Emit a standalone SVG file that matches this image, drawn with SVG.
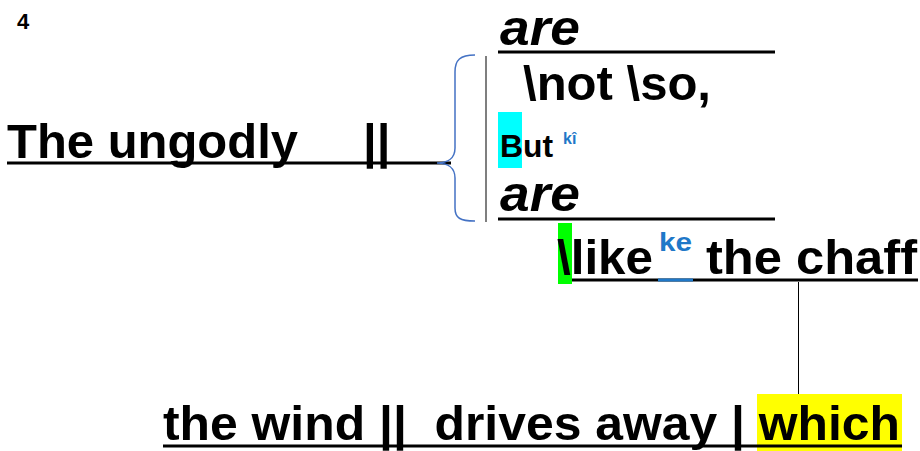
<svg xmlns="http://www.w3.org/2000/svg" width="920" height="451" viewBox="0 0 920 451">
<style>
.t{font-family:"Liberation Sans",Arial,sans-serif;font-weight:bold;fill:#000}
.i{font-style:italic}
.sup{font-family:"Liberation Sans",Arial,sans-serif;font-weight:bold;fill:#1F78C8}
.ln{stroke:#000;stroke-width:3;fill:none}
.thin{stroke:#000;stroke-width:1;fill:none}
</style>
<rect width="920" height="451" fill="#fff"/>
<text class="t" x="17" y="29" font-size="22">4</text>
<g id="highlights">
<rect x="498" y="112" width="24" height="56" fill="#00FFFF"/>
<rect x="558" y="223" width="14" height="61" fill="#00FF00"/>
<rect x="757" y="394" width="145" height="57" fill="#FFFF00"/>
</g>
<g id="subject">
<text class="t" x="7" y="158" font-size="49" textLength="291" lengthAdjust="spacingAndGlyphs">The ungodly</text>
<text class="t" x="363" y="158" font-size="49">||</text>
<line class="ln" x1="7" y1="163" x2="451" y2="163"/>
</g>
<g id="predicate">
<text class="t i" x="500" y="45" font-size="50" textLength="80" lengthAdjust="spacingAndGlyphs">are</text>
<line class="ln" x1="498" y1="52" x2="775" y2="52"/>
<text class="t" x="523" y="100" font-size="48" textLength="188" lengthAdjust="spacingAndGlyphs">\not \so,</text>
<text class="t" x="500" y="157" font-size="32" textLength="53" lengthAdjust="spacingAndGlyphs">But</text>
<text class="sup" x="563" y="144" font-size="16">kî</text>
<text class="t i" x="500" y="211" font-size="50" textLength="80" lengthAdjust="spacingAndGlyphs">are</text>
<line class="ln" x1="498" y1="219" x2="775" y2="219"/>
</g>
<g id="like">
<text class="t" x="557" y="274" font-size="48" textLength="96" lengthAdjust="spacingAndGlyphs">\like</text>
<text class="sup" x="659" y="251" font-size="25" textLength="33" lengthAdjust="spacingAndGlyphs">ke</text>
<text class="t" x="706" y="274" font-size="48" textLength="211" lengthAdjust="spacingAndGlyphs">the chaff</text>
<line class="ln" x1="572" y1="280" x2="918" y2="280"/>
<line x1="658" y1="280" x2="693" y2="280" stroke="#1F78C8" stroke-width="3"/>
</g>
<g id="relative">
<text class="t" x="163" y="440" font-size="48" xml:space="preserve" textLength="737" lengthAdjust="spacingAndGlyphs">the wind ||  drives away | which</text>
<line class="ln" x1="163" y1="446" x2="902" y2="446"/>
</g>
<g id="connectors">
<path d="M475,55 C460,55 455,60 455,72 L455,148 C455,158 448,163 437,163 C448,163 455,168 455,178 L455,208 C455,218 460,221 475,221" fill="none" stroke="#4472C4" stroke-width="1.5"/>
<line x1="486" y1="56" x2="486" y2="222" stroke="#555" stroke-width="1.5"/>
<line class="thin" x1="798.5" y1="282" x2="798.5" y2="394"/>
</g>
</svg>
